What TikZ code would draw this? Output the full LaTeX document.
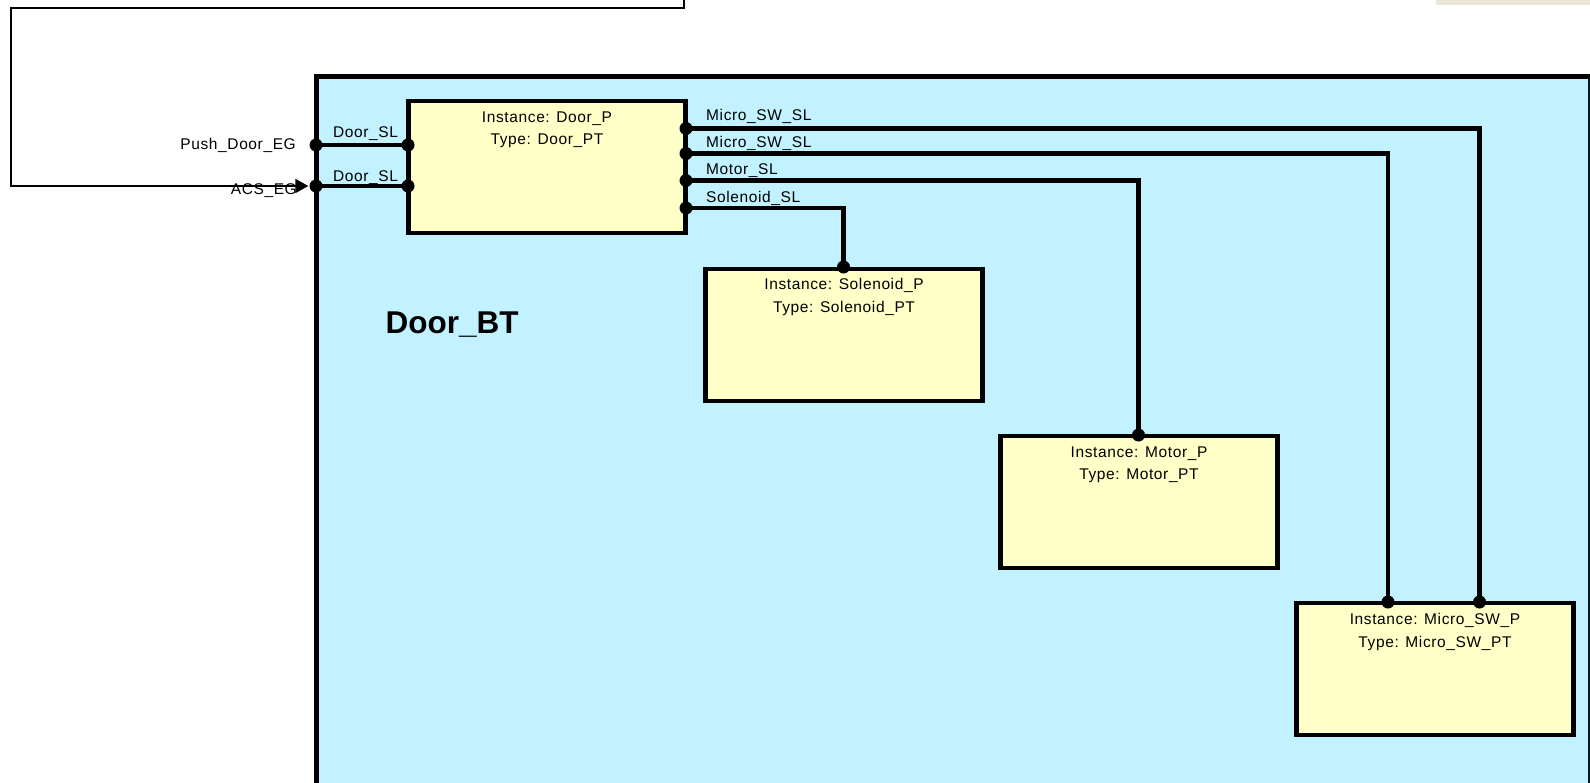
\documentclass[tikz,border=0pt]{standalone}
\usepackage{fontspec}
\setmainfont{Liberation Sans}
\newfontfamily\pixfont[LetterSpace=4]{Liberation Sans}
\usetikzlibrary{arrows.meta}
\definecolor{framecol}{RGB}{194,242,255}
\definecolor{boxcol}{RGB}{255,255,200}
\definecolor{beige}{RGB}{235,230,215}
\tikzset{
  partbox/.style={draw=black, fill=boxcol, line width=4.5pt, minimum width=277pt, minimum height=132pt, inner sep=0pt},
  port/.style={circle, fill=black, minimum size=13pt, inner sep=0pt},
  wire/.style={line width=4.5pt},
  extwire/.style={line width=2pt, -{Triangle[length=13pt,width=14pt]}},
  lbl/.style={font=\pixfont\fontsize{15.5}{17}\selectfont, inner sep=0pt, anchor=base},
  lbll/.style={lbl, anchor=base west},
  lblr/.style={lbl, anchor=base east},
  title/.style={font=\bfseries\fontsize{31.5}{35}\selectfont, inner sep=0pt, anchor=base west}
}
\begin{document}
\begin{tikzpicture}[x=1pt,y=-1pt]
\useasboundingbox (0,0) rectangle (1590,782);
\clip (0,0) rectangle (1590,782);
% background items
\fill[beige] (1436,0) rectangle (1590,5);
\fill[framecol] (316,76.5) rectangle (1600,800);
\draw[line width=5pt] (316,800) -- (316,76.5) -- (1600,76.5);
\draw[line width=1.5pt, black!80!teal] (1589,79) -- (1589,800);
\node[title] (bt) at (385.5,333) {Door\_BT};
% boxes
\node[partbox] (door) at (547,167) {};
\node[partbox] (sol) at (844,335) {};
\node[partbox] (mot) at (1139,502) {};
\node[partbox] (mic) at (1435,669) {};
\node[lbl] (doorI) at (547,122) {Instance: Door\_P};
\node[lbl] (doorT) at (547,144.5) {Type: Door\_PT};
\node[lbl] (solI) at (844,289) {Instance: Solenoid\_P};
\node[lbl] (solT) at (844,312) {Type: Solenoid\_PT};
\node[lbl] (motI) at (1139,457) {Instance: Motor\_P};
\node[lbl] (motT) at (1139,479.5) {Type: Motor\_PT};
\node[lbl] (micI) at (1435,624) {Instance: Micro\_SW\_P};
\node[lbl] (micT) at (1435,647) {Type: Micro\_SW\_PT};
% ports
\node[port] (pe) at (316,145) {};
\node[port] (pa) at (316,186) {};
\node[port] (dl1) at (408,145) {};
\node[port] (dl2) at (408,186) {};
\node[port] (dr1) at (686,128.5) {};
\node[port] (dr2) at (686,153.5) {};
\node[port] (dr3) at (686,180.5) {};
\node[port] (dr4) at (686,208) {};
\node[port] (st) at (843.5,267) {};
\node[port] (mt) at (1138.5,435) {};
\node[port] (mt1) at (1388,602) {};
\node[port] (mt2) at (1479.5,602) {};
% wires
\draw[wire] (pe.center) -- (dl1.center);
\draw[wire] (pa.center) -- (dl2.center);
\draw[wire] (dr1.center) -| (mt2.center);
\draw[wire] (dr2.center) -| (mt1.center);
\draw[wire] (dr3.center) -| (mt.center);
\draw[wire] (dr4.center) -| (st.center);
% external connector
\coordinate (extTop) at (684,-3);
\draw[extwire] (extTop) |- (10.5,8) |- ([xshift=-1pt]pa.west);
% labels
\node[lblr] (pel) at (296,149.5) {Push\_Door\_EG};
\node[lblr] (pal) at (297,194.5) {ACS\_EG};
\node[lbl] (dsl1) at (365.5,137) {Door\_SL};
\node[lbl] (dsl2) at (365.5,181.5) {Door\_SL};
\node[lbll] (m1) at (706,120.5) {Micro\_SW\_SL};
\node[lbll] (m2) at (706,147.5) {Micro\_SW\_SL};
\node[lbll] (m3) at (706,174.5) {Motor\_SL};
\node[lbll] (m4) at (706,202) {Solenoid\_SL};
\end{tikzpicture}
\end{document}
